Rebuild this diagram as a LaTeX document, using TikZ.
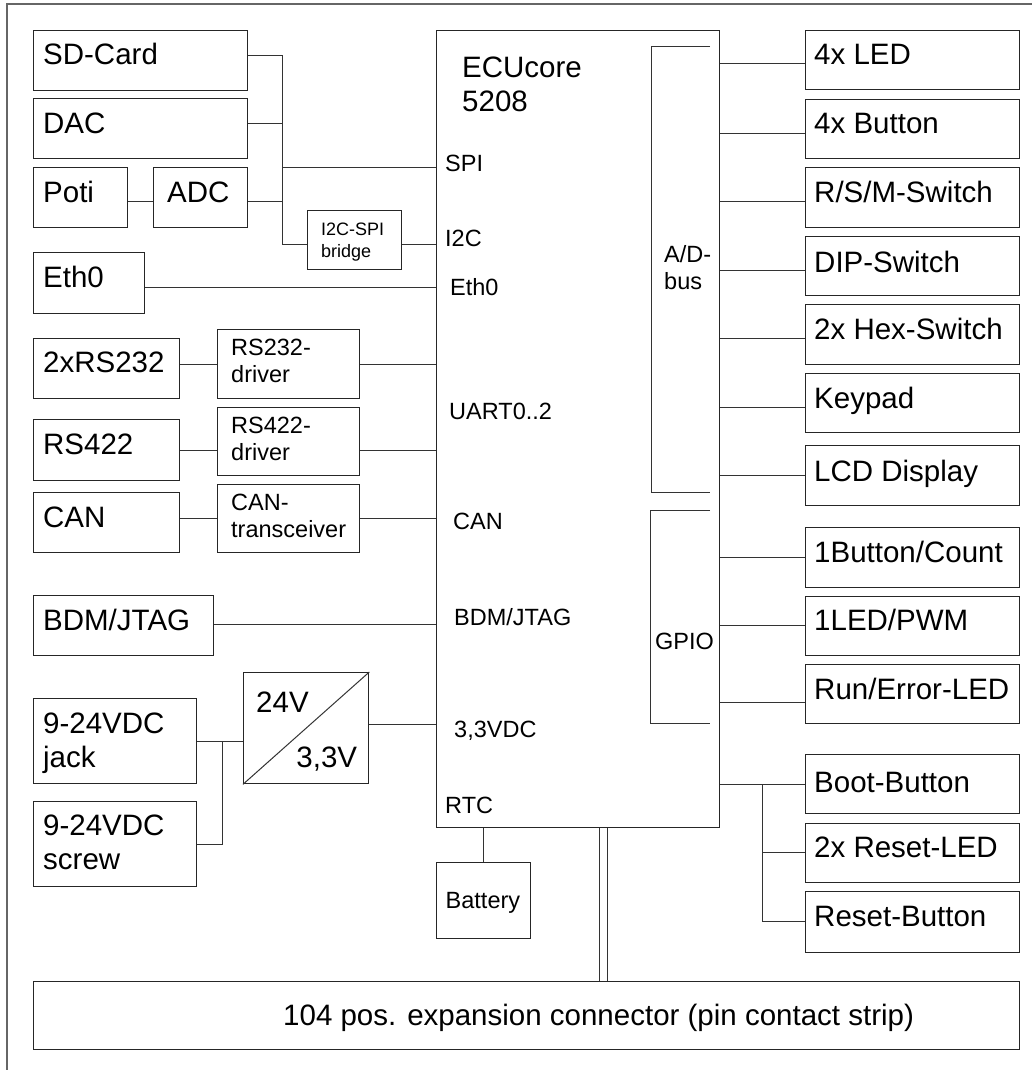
\documentclass[tikz,border=0pt]{standalone}
\usepackage{fontspec}
\setmainfont{Liberation Sans}
\usetikzlibrary{calc}
\newcommand\twol[2]{\vtop{\hbox{#1}\hbox{#2}}}
\begin{document}
\begin{tikzpicture}[x=1pt,y=-1pt, line join=miter,
 box/.style={draw=black!85, line width=1.3pt, inner sep=0pt, anchor=north west},
 con/.style={draw=black!80, line width=1pt},
 big/.style={font=\fontsize{29.5}{34}\selectfont, inner sep=0pt, anchor=base west},
 mid/.style={font=\fontsize{23.5}{27}\selectfont, inner sep=0pt, anchor=base west},
 sml/.style={font=\fontsize{18}{22}\selectfont, inner sep=0pt, anchor=base west}]
\useasboundingbox (0,0) rectangle (1032,1070);
% outer frame (partial)
\draw[draw=black!60, line width=1.5pt] (7,1070) -- (7,4) -- (1032,4);

% ---------- left boxes ----------
\node[box, minimum width=214, minimum height=60] (sd) at (33,30) {};
\node[big] (tsd) at ($(sd.north west)+(10,35)$) {SD-Card};
\node[box, minimum width=214, minimum height=60] (dac) at (33,98) {};
\node[big] (tdac) at ($(dac.north west)+(10,35)$) {DAC};
\node[box, minimum width=94, minimum height=60] (poti) at (33,167) {};
\node[big] (tpoti) at ($(poti.north west)+(10,35)$) {Poti};
\node[box, minimum width=94, minimum height=60] (adc) at (153,167) {};
\node[big] (tadc) at ($(adc.north west)+(14,35)$) {ADC};
\node[box, minimum width=94, minimum height=59] (bridge) at (307,210) {};
\node[sml] (tbridge) at ($(bridge.north west)+(14,25)$) {\twol{I2C-SPI}{bridge}};
\node[box, minimum width=111, minimum height=61] (eth) at (33,252) {};
\node[big] (teth) at ($(eth.north west)+(10,35)$) {Eth0};

\node[box, minimum width=146, minimum height=60] (rs232) at (33,338) {};
\node[big] (trs232) at ($(rs232.north west)+(10,34)$) {2xRS232};
\node[box, minimum width=142, minimum height=69] (drv232) at (217,329) {};
\node[mid] (tdrv232) at ($(drv232.north west)+(14,26)$) {\twol{RS232-}{driver}};
\node[box, minimum width=146, minimum height=61] (rs422) at (33,419) {};
\node[big] (trs422) at ($(rs422.north west)+(10,35)$) {RS422};
\node[box, minimum width=142, minimum height=68] (drv422) at (217,407) {};
\node[mid] (tdrv422) at ($(drv422.north west)+(14,26)$) {\twol{RS422-}{driver}};
\node[box, minimum width=146, minimum height=60] (can) at (33,492) {};
\node[big] (tcan) at ($(can.north west)+(10,35)$) {CAN};
\node[box, minimum width=142, minimum height=68] (cantr) at (217,484) {};
\node[mid] (tcantr) at ($(cantr.north west)+(14,26)$) {\twol{CAN-}{transceiver}};

\node[box, minimum width=180, minimum height=60] (bdm) at (33,595) {};
\node[big] (tbdm) at ($(bdm.north west)+(10,35)$) {BDM/JTAG};

\node[box, minimum width=125, minimum height=111] (conv) at (243,672) {};
\draw[con] (conv.south west) -- (conv.north east);
\node[big] (t24) at ($(conv.north west)+(13,40)$) {24V};
\node[big, anchor=base east] (t33) at ($(conv.south east)+(-12,-17)$) {3,3V};
\node[box, minimum width=163, minimum height=85] (jack) at (33,698) {};
\node[big] (tjack) at ($(jack.north west)+(10,35)$) {\twol{9-24VDC}{jack}};
\node[box, minimum width=163, minimum height=85] (screw) at (33,801) {};
\node[big] (tscrew) at ($(screw.north west)+(10,34)$) {\twol{9-24VDC}{screw}};

% ---------- chip ----------
\node[box, minimum width=283, minimum height=797, line width=1.1pt] (chip) at (436,30) {};
\node[big] (tecu) at (462,78) {\twol{ECUcore}{5208}};
\node[mid] (tspi) at (445,171) {SPI};
\node[mid] (ti2c) at (445,246) {I2C};
\node[mid] (teth0) at (450,295) {Eth0};
\node[mid] (tuart) at (449,419) {UART0..2};
\node[mid] (tcanl) at (453,529) {CAN};
\node[mid] (tbdml) at (454,625) {BDM/JTAG};
\node[mid] (tpwr) at (454,737) {3,3VDC};
\node[mid] (trtc) at (445,813) {RTC};
\draw[con] (710,47) -- (651,47) -- (651,492) -- (710,492);
\node[mid] (tad) at (664,262) {\twol{A/D-}{bus}};
\draw[con] (710,510) -- (650,510) -- (650,723) -- (710,723);
\node[mid] (tgpio) at (655,649) {GPIO};

\node[box, minimum width=94, minimum height=76] (bat) at (436,862) {};
\node[mid] (tbat) at ($(bat.north west)+(9.5,46)$) {Battery};

\node[box, minimum width=986, minimum height=68] (exp) at (33,981) {};
\node[big] (texp) at (283,1025.5) {104 pos. expansion connector (pin contact strip)};

% ---------- right boxes ----------
\node[box, minimum width=214, minimum height=59] (led) at (805,30) {};
\node[big] (tled) at ($(led.north west)+(9,35)$) {4x LED};
\node[box, minimum width=214, minimum height=59] (btn) at (805,99) {};
\node[big] (tbtn) at ($(btn.north west)+(9,34)$) {4x Button};
\node[box, minimum width=214, minimum height=60] (rsm) at (805,167) {};
\node[big] (trsm) at ($(rsm.north west)+(9,35)$) {R/S/M-Switch};
\node[box, minimum width=214, minimum height=59] (dip) at (805,236) {};
\node[big] (tdip) at ($(dip.north west)+(9,36)$) {DIP-Switch};
\node[box, minimum width=214, minimum height=60] (hex) at (805,304) {};
\node[big] (thex) at ($(hex.north west)+(9,35)$) {2x Hex-Switch};
\node[box, minimum width=214, minimum height=59] (key) at (805,373) {};
\node[big] (tkey) at ($(key.north west)+(9,35)$) {Keypad};
\node[box, minimum width=214, minimum height=60] (lcd) at (805,445) {};
\node[big] (tlcd) at ($(lcd.north west)+(9,36)$) {LCD Display};
\node[box, minimum width=214, minimum height=60] (bcnt) at (805,527) {};
\node[big] (tbcnt) at ($(bcnt.north west)+(9,35)$) {1Button/Count};
\node[box, minimum width=214, minimum height=59] (lpwm) at (805,596) {};
\node[big] (tlpwm) at ($(lpwm.north west)+(9,34)$) {1LED/PWM};
\node[box, minimum width=214, minimum height=59] (rerr) at (805,664) {};
\node[big] (trerr) at ($(rerr.north west)+(9,35)$) {Run/Error-LED};
\node[box, minimum width=214, minimum height=59] (boot) at (805,754) {};
\node[big] (tboot) at ($(boot.north west)+(9,38)$) {Boot-Button};
\node[box, minimum width=214, minimum height=59] (rled) at (805,823) {};
\node[big] (trled) at ($(rled.north west)+(9,34)$) {2x Reset-LED};
\node[box, minimum width=214, minimum height=61] (rbtn) at (805,891) {};
\node[big] (trbtn) at ($(rbtn.north west)+(9,35)$) {Reset-Button};

% ---------- connectors: left ----------
\coordinate (bSD) at (282,56);
\coordinate (bDAC) at (282,124);
\coordinate (bSPI) at (282,167);
\coordinate (bADC) at (282,201);
\coordinate (bBR) at (282,244);
\draw[con] (sd.east |- bSD) -- (bSD) -- (bBR) -- (bridge.west |- bBR);
\draw[con] (dac.east |- bDAC) -- (bDAC);
\draw[con] (adc.east |- bADC) -- (bADC);
\draw[con] (poti.east |- bADC) -- (adc.west |- bADC);
\draw[con] (bSPI) -- (chip.west |- bSPI);
\draw[con] (bridge.east |- bBR) -- (chip.west |- bBR);
\coordinate (yEth) at (0,287);
\draw[con] (eth.east |- yEth) -- (chip.west |- yEth);
\coordinate (yU1) at (0,364);
\draw[con] (rs232.east |- yU1) -- (drv232.west |- yU1);
\draw[con] (drv232.east |- yU1) -- (chip.west |- yU1);
\coordinate (yU2) at (0,450);
\draw[con] (rs422.east |- yU2) -- (drv422.west |- yU2);
\draw[con] (drv422.east |- yU2) -- (chip.west |- yU2);
\coordinate (yCAN) at (0,518);
\draw[con] (can.east |- yCAN) -- (cantr.west |- yCAN);
\draw[con] (cantr.east |- yCAN) -- (chip.west |- yCAN);
\coordinate (yBDM) at (0,624);
\draw[con] (bdm.east |- yBDM) -- (chip.west |- yBDM);
\coordinate (yPWR) at (0,724);
\draw[con] (conv.east |- yPWR) -- (chip.west |- yPWR);
\coordinate (pj1) at (222,741);
\coordinate (pj2) at (222,844);
\draw[con] (jack.east |- pj1) -- (conv.west |- pj1);
\draw[con] (pj1) -- (pj2) -- (screw.east |- pj2);
\draw[con] (bat.north) -- (bat.north |- chip.south);
\coordinate (xa) at (599,0);
\coordinate (xb) at (607,0);
\draw[con] (chip.south -| xa) -- (exp.north -| xa);
\draw[con] (chip.south -| xb) -- (exp.north -| xb);

% ---------- connectors: right ----------
\foreach \n/\yy in {led/64, btn/133, rsm/201, dip/270, hex/338, key/407, lcd/475, bcnt/557, lpwm/625, rerr/702}{
  \coordinate (y\n) at (0,\yy);
  \draw[con] (chip.east |- y\n) -- (\n.west |- y\n);
}
\coordinate (rj1) at (762,784);
\coordinate (rj2) at (762,852);
\coordinate (rj3) at (762,921);
\draw[con] (chip.east |- rj1) -- (boot.west |- rj1);
\draw[con] (rj1) -- (rj3) -- (rbtn.west |- rj3);
\draw[con] (rj2) -- (rled.west |- rj2);
\end{tikzpicture}
\end{document}
